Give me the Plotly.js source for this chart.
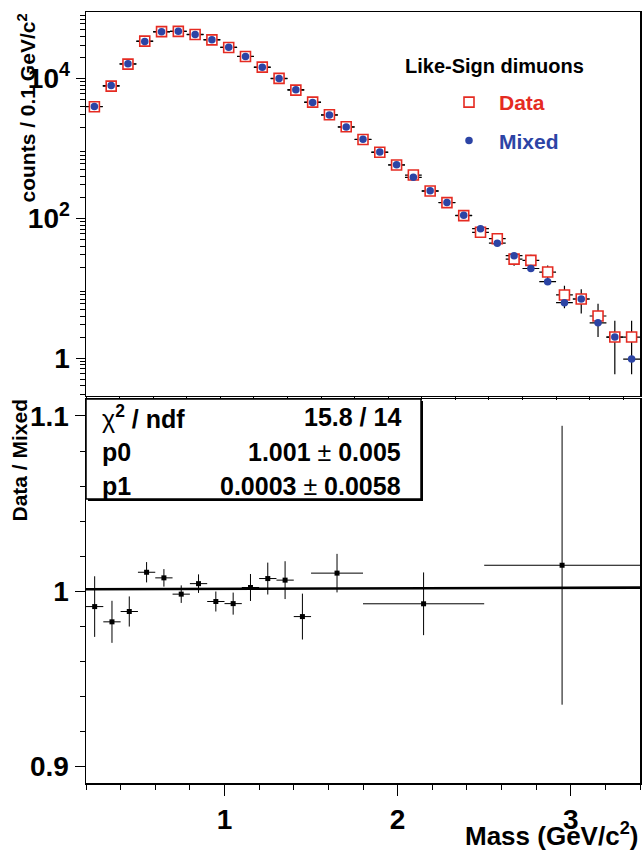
<!DOCTYPE html>
<html><head><meta charset="utf-8">
<script src="https://cdn.plot.ly/plotly-3.0.1.min.js"></script>
<style>html,body{margin:0;padding:0;background:#fff;} #chart{width:644px;height:854px;}</style>
</head><body><div id="chart"></div>
<script>
// ---------- data: top panel (counts per 0.1 GeV/c^2) ----------
const massTop = [0.25,0.35,0.45,0.55,0.65,0.75,0.85,0.95,1.05,1.15,1.25,1.35,1.45,1.55,1.65,1.75,1.85,1.95,2.05,2.15,2.25,2.35,2.45,2.55,2.65,2.75,2.85,2.95,3.05,3.15,3.25,3.35,3.45];
const dataCounts = [3930,7760,16000,34100,46700,47100,42500,35600,27700,20600,14500,10000,6800,4580,3020,2035,1336,877,577,415,245,167,109,63,51,26,25,17,8,7,4,2,2];
const dataErr = [62.7,88.1,126.5,184.7,216.1,217.0,206.2,188.7,166.4,143.5,120.4,100,82.5,67.7,55,45.1,36.6,29.6,24,20.4,15.7,12.9,10.4,7.9,7.1,5.1,5,4.1,2.83,2.65,2,1.41,1.41];
const mixedCounts = [3966,7898,16188,33736,46350,47180,42318,35811,27898,20557,14396,9937,6900,4530,2990,2015,1346,883,581,385,247,168,110,71,44,29.2,19.1,12.4,6.2,7.0,3.2,2.0,0.97];
const topHalfWidth = 0.05;

// ---------- data: bottom panel (Data / Mixed ratio) ----------
const massRatio = [0.25,0.35,0.45,0.55,0.65,0.75,0.85,0.95,1.05,1.15,1.25,1.35,1.45,1.65,2.15,2.95];
const ratioHalfWidth = [0.05,0.05,0.05,0.05,0.05,0.05,0.05,0.05,0.05,0.05,0.05,0.05,0.05,0.15,0.35,0.45];
const ratioValues = [0.9912,0.9825,0.9884,1.0108,1.0076,0.9983,1.0043,0.9941,0.9929,1.0021,1.0072,1.0063,0.9855,1.0103,0.9928,1.0148];
const ratioErr = [0.0173,0.0120,0.0086,0.0058,0.0050,0.0050,0.0053,0.0057,0.0063,0.0077,0.0091,0.0108,0.0131,0.0110,0.0179,0.0796];

// fit (pol1) results
const fitP0 = 1.001, fitP0Err = 0.005;
const fitP1 = 0.0003, fitP1Err = 0.0058;
const fitChi2 = 15.8, fitNdf = 14;
const fitRange = [0.2, 3.4];

// ---------- tick labels ----------
const topTickVals = [1,100,10000];
const topTickText = ['1','10<sup>2</sup>','10<sup>4</sup>'];
const topUnlabelledDecades = [10,1000];
const botTickVals = [0.9,1,1.1];
const botTickText = ['0.9','1','1.1'];
const massTickVals = [1,2,3];
const massTickText = ['1','2','3'];

// minor tick positions on the log axis
const minorTop = [];
for (let k = -1; k <= 4; k++) for (let m = 2; m <= 9; m++) minorTop.push(m * Math.pow(10, k));

const RED = '#e52b22', BLUE = '#2c44a5';
const FONT = 'Liberation Sans, Arial, Helvetica, sans-serif';

const traces = [
  { // mixed horizontal bin bars (drawn first, under data squares)
    x: massTop, y: mixedCounts, xaxis: 'x', yaxis: 'y', type: 'scatter', mode: 'markers',
    marker: {size: 1, color: 'rgba(0,0,0,0)'}, showlegend: false, hoverinfo: 'skip',
    error_x: {type: 'constant', value: topHalfWidth, color: '#000', thickness: 1.2, width: 0}
  },
  { // data
    x: massTop, y: dataCounts, xaxis: 'x', yaxis: 'y', type: 'scatter', mode: 'markers',
    name: '<span style="color:' + RED + '">Data</span>', legendgroup: 'd',
    marker: {symbol: 'square', size: 10, color: '#fff', line: {color: RED, width: 1.6}},
    error_x: {type: 'constant', value: topHalfWidth, color: '#000', thickness: 1.2, width: 0},
    error_y: {type: 'data', array: dataErr, color: '#000', thickness: 1.2, width: 0}
  },
  { // mixed markers
    x: massTop, y: mixedCounts, xaxis: 'x', yaxis: 'y', type: 'scatter', mode: 'markers',
    name: '<span style="color:' + BLUE + '">Mixed</span>', legendgroup: 'm',
    marker: {symbol: 'circle', size: 7.5, color: BLUE}
  },
  { // ratio points
    x: massRatio, y: ratioValues, xaxis: 'x2', yaxis: 'y2', type: 'scatter', mode: 'markers',
    showlegend: false,
    marker: {symbol: 'square', size: 5, color: '#000'},
    error_x: {type: 'data', array: ratioHalfWidth, color: '#000', thickness: 1, width: 0},
    error_y: {type: 'data', array: ratioErr, color: '#000', thickness: 1, width: 0}
  },
  { // fit line
    x: fitRange, y: fitRange.map(m => fitP0 + fitP1 * m), xaxis: 'x2', yaxis: 'y2',
    type: 'scatter', mode: 'lines', showlegend: false,
    line: {color: '#000', width: 2.6}
  }
];

// geometry helpers (plot area: x 86..640, y 12..783)
const L = 86, R = 4, T = 12, B = 71, W = 644, H = 854;
const PW = W - L - R, PH = H - T - B;
const px = v => (v - L) / PW;
const py = v => (H - B - v) / PH;

const axCommon = {
  showline: true, mirror: true, linecolor: '#000', linewidth: 1.5,
  showgrid: false, zeroline: false, tickcolor: '#000', tickwidth: 1, automargin: false,
  tickfont: {family: FONT, size: 28, color: '#000', weight: 'bold'}
};

const boxFont = {family: FONT, size: 25, color: '#000', weight: 'bold'};
const NW = s => '<span style="font-weight:normal">' + s + '</span>';
const topRange = [Math.log10(0.29), Math.log10(89000)];

const layout = {
  width: W, height: H,
  margin: {l: L, r: R, t: T, b: B, autoexpand: false},
  paper_bgcolor: '#fff', plot_bgcolor: '#fff',
  showlegend: true,
  legend: {
    x: px(439), y: py(82), xanchor: 'left', yanchor: 'top',
    bgcolor: 'rgba(0,0,0,0)', borderwidth: 0,
    font: {family: FONT, size: 21, weight: 'bold'},
    tracegroupgap: 8, traceorder: 'grouped', itemwidth: 50
  },
  xaxis: Object.assign({}, axCommon, {
    domain: [0, 1], anchor: 'y', range: [0.2, 3.5],
    ticks: 'outside', ticklen: 3, tick0: 0.2, dtick: 0.2, showticklabels: false
  }),
  yaxis: Object.assign({}, axCommon, {
    domain: [py(395.7), 1], anchor: 'x', type: 'log', range: topRange,
    tickmode: 'array', tickvals: topTickVals, ticktext: topTickText,
    ticks: 'outside', ticklen: 9,
    minor: {tickmode: 'array', tickvals: minorTop, ticks: 'outside', ticklen: 5, tickcolor: '#000', tickwidth: 1}
  }),
  yaxis3: {
    overlaying: 'y', anchor: 'x', side: 'left', type: 'log', range: topRange,
    tickmode: 'array', tickvals: topUnlabelledDecades, showticklabels: false,
    ticks: 'outside', ticklen: 9, tickcolor: '#000', tickwidth: 1,
    showline: false, showgrid: false, zeroline: false
  },
  xaxis2: Object.assign({}, axCommon, {
    domain: [0, 1], anchor: 'y2', range: [0.2, 3.4],
    tickmode: 'array', tickvals: massTickVals, ticktext: massTickText,
    ticks: 'outside', ticklen: 11,
    minor: {tick0: 0, dtick: 0.2, ticks: 'outside', ticklen: 5, tickcolor: '#000', tickwidth: 1}
  }),
  yaxis2: Object.assign({}, axCommon, {
    domain: [0, py(399)], anchor: 'x2', range: [0.8905, 1.1097],
    tickmode: 'array', tickvals: botTickVals, ticktext: botTickText,
    ticks: 'outside', ticklen: 10,
    minor: {tick0: 0.9, dtick: 0.02, ticks: 'outside', ticklen: 5, tickcolor: '#000', tickwidth: 1}
  }),
  shapes: [
    {type: 'rect', xref: 'paper', yref: 'paper', layer: 'above',
     x0: px(88), x1: px(423), y0: py(501), y1: py(401),
     fillcolor: '#000', line: {width: 0}},
    {type: 'rect', xref: 'paper', yref: 'paper', layer: 'above',
     x0: px(86), x1: px(421), y0: py(499), y1: py(399),
     fillcolor: '#fff', line: {color: '#000', width: 1.5}}
  ],
  annotations: [
    {xref: 'paper', yref: 'paper', x: px(26), y: 1, xanchor: 'center', yanchor: 'top',
     textangle: -90, showarrow: false,
     text: 'counts / 0.1 GeV/c<sup>2</sup>', font: {family: FONT, size: 21, color: '#000', weight: 'bold'}},
    {xref: 'paper', yref: 'paper', x: px(19), y: py(397), xanchor: 'center', yanchor: 'top',
     textangle: -90, showarrow: false,
     text: 'Data / Mixed', font: {family: FONT, size: 21, color: '#000', weight: 'bold'}},
    {xref: 'paper', yref: 'paper', x: 1, y: py(853), xanchor: 'right', yanchor: 'bottom',
     showarrow: false, text: 'Mass (GeV/c<sup>2</sup>)',
     font: {family: FONT, size: 26, color: '#000', weight: 'bold'}},
    {xref: 'paper', yref: 'paper', x: px(403), y: py(66), xanchor: 'left', yanchor: 'middle',
     showarrow: false, text: 'Like-Sign dimuons',
     font: {family: FONT, size: 20, color: '#000', weight: 'bold'}},
    // stats box
    {xref: 'paper', yref: 'paper', x: px(100), y: py(417), xanchor: 'left', yanchor: 'middle', showarrow: false,
     text: NW('χ') + '<sup>2</sup> / ndf', font: boxFont},
    {xref: 'paper', yref: 'paper', x: px(403), y: py(417), xanchor: 'right', yanchor: 'middle', showarrow: false,
     text: fitChi2.toFixed(1) + ' / ' + fitNdf, font: boxFont},
    {xref: 'paper', yref: 'paper', x: px(100), y: py(452), xanchor: 'left', yanchor: 'middle', showarrow: false,
     text: 'p0', font: boxFont},
    {xref: 'paper', yref: 'paper', x: px(403), y: py(452), xanchor: 'right', yanchor: 'middle', showarrow: false,
     text: fitP0.toFixed(3) + ' ' + NW('±') + ' ' + fitP0Err.toFixed(3), font: boxFont},
    {xref: 'paper', yref: 'paper', x: px(100), y: py(486), xanchor: 'left', yanchor: 'middle', showarrow: false,
     text: 'p1', font: boxFont},
    {xref: 'paper', yref: 'paper', x: px(403), y: py(486), xanchor: 'right', yanchor: 'middle', showarrow: false,
     text: fitP1.toFixed(4) + ' ' + NW('±') + ' ' + fitP1Err.toFixed(4), font: boxFont}
  ]
};

Plotly.newPlot('chart', traces, layout, {staticPlot: true, displayModeBar: false});
</script>
</body></html>
